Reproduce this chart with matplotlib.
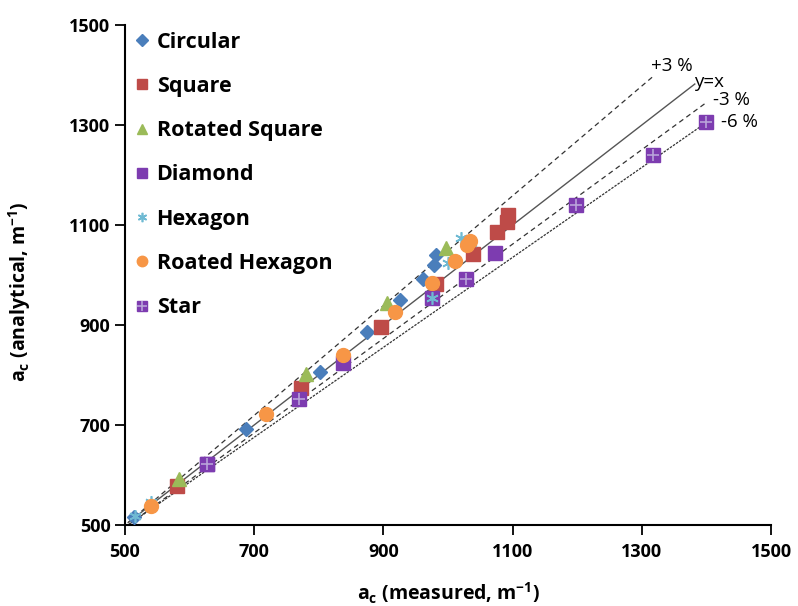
import matplotlib
matplotlib.use("Agg")
import matplotlib.pyplot as plt
from matplotlib.legend_handler import HandlerTuple

plt.rcParams['font.family'] = ['Open Sans', 'DejaVu Sans']

# Data (measured, analytical)
circ_x = [514, 687, 802, 875, 926, 961, 979, 982]
circ_y = [516, 692, 806, 886, 950, 993, 1020, 1041]

sq_x = [581, 773, 896, 981, 1039, 1076, 1091, 1093]
sq_y = [577, 773, 895, 983, 1043, 1087, 1106, 1120]

rsq_x = [584, 780, 906, 997]
rsq_y = [591, 802, 945, 1055]

dia_x = [627, 838, 975, 1072]
dia_y = [621, 823, 955, 1045]

hex_x = [515, 540, 975, 1000, 1020, 1035]
hex_y = [518, 545, 955, 1025, 1075, 1065]

rhex_x = [541, 719, 838, 918, 975, 1011, 1030, 1034]
rhex_y = [538, 722, 840, 925, 985, 1029, 1060, 1068]

star_x = [627, 770, 1028, 1198, 1318, 1400]
star_y = [621, 751, 993, 1140, 1240, 1307]

# reference lines, drawn between two end points
ref_lines = {
    "+3 %": ((505, 1320), (505, 1400)),
    "y=x": ((505, 1382), (505, 1382)),
    "-3 %": ((505, 1401), (500, 1346)),
    "-6 %": ((505, 1401), (500, 1306)),
}

fig = plt.figure(figsize=(7.98, 6.06), dpi=100)
ax = fig.add_axes([0.1566, 0.1337, 0.8096, 0.825])

ax.plot(*ref_lines["+3 %"], color="#333333", lw=0.9, ls=(0, (4, 3)), zorder=1)
ax.plot(*ref_lines["y=x"], color="#555555", lw=1.0, ls="-", zorder=1)
ax.plot(*ref_lines["-3 %"], color="#333333", lw=0.9, ls=(0, (4, 3)), zorder=1)
ax.plot(*ref_lines["-6 %"], color="#333333", lw=0.9, ls=(0, (2, 1)), zorder=1)

ax.text(1314, 1418, "+3 %", fontsize=13.5, ha="left", va="center")
ax.text(1381, 1387, "y=x", fontsize=13.5, ha="left", va="center")
ax.text(1410, 1350, "-3 %", fontsize=13.5, ha="left", va="center")
ax.text(1422, 1307, "-6 %", fontsize=13.5, ha="left", va="center")

h_circ, = ax.plot(circ_x, circ_y, ls="none", marker="D", ms=7.5, color="#4A7EBB", zorder=3)
h_sq, = ax.plot(sq_x, sq_y, ls="none", marker="s", ms=9.5, color="#BE4B48", zorder=3)
h_rsq, = ax.plot(rsq_x, rsq_y, ls="none", marker="^", ms=10, color="#9BBB59", zorder=3)
h_dia, = ax.plot(dia_x, dia_y, ls="none", marker="s", ms=10, color="#7D3CB0", zorder=3)
h_hex, = ax.plot(hex_x, hex_y, ls="none", marker=(6, 2, 0), ms=9, mew=1.2, color="#6FBAD3", zorder=3)
h_rhex, = ax.plot(rhex_x, rhex_y, ls="none", marker="o", ms=10, color="#F79646", zorder=3)
h_star1, = ax.plot(star_x, star_y, ls="none", marker="s", ms=10, color="#7D3CB0", zorder=4)
h_star2, = ax.plot(star_x, star_y, ls="none", marker="+", ms=9, mew=1.2, color="#B9A3D9", zorder=5)

ax.legend([h_circ, h_sq, h_rsq, h_dia, h_hex, h_rhex, (h_star1, h_star2)],
          ["Circular", "Square", "Rotated Square", "Diamond", "Hexagon", "Roated Hexagon", "Star"],
          handler_map={tuple: HandlerTuple(ndivide=1, pad=0)},
          loc="upper left", bbox_to_anchor=(0.003, 1.004), frameon=False,
          prop={"weight": "bold", "size": 15.5}, labelspacing=1.08,
          handlelength=0.6, handletextpad=0.38, markerscale=0.75, borderaxespad=0.0)

ax.set_xlim(500, 1500)
ax.set_ylim(500, 1500)
ax.set_xticks([500, 700, 900, 1100, 1300, 1500])
ax.set_yticks([500, 700, 900, 1100, 1300, 1500])
ax.spines["top"].set_visible(False)
ax.spines["right"].set_visible(False)
ax.spines["left"].set_linewidth(1.5)
ax.spines["bottom"].set_linewidth(1.5)
ax.tick_params(direction="out", length=7, width=1.3, labelsize=13)
ax.tick_params(axis="x", pad=6)
for lab in ax.get_xticklabels() + ax.get_yticklabels():
    lab.set_fontweight("bold")

ax.set_xlabel("a$_\\mathregular{c}$ (measured, m$^\\mathregular{-1}$)", fontsize=14, fontweight="bold")
ax.set_ylabel("a$_\\mathregular{c}$ (analytical, m$^\\mathregular{-1}$)", fontsize=14, fontweight="bold")
ax.xaxis.set_label_coords(0.5, -0.112)
ax.yaxis.set_label_coords(-0.143, 0.466)

fig.savefig("out.png", dpi=100)
